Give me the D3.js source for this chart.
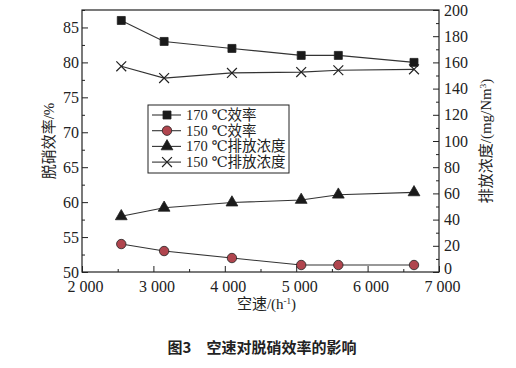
<!DOCTYPE html>
<html>
<head>
<meta charset="utf-8">
<script src="https://cdn.jsdelivr.net/npm/d3@7"></script>
<style>
  body { margin: 0; background: #fff; }
  svg text { font-family: "Liberation Serif", "Times New Roman", "DejaVu Serif", "Noto Sans CJK SC", serif; fill: #222; }
</style>
</head>
<body>
<script>
const speeds = [2550, 3150, 4100, 5070, 5590, 6650];
const eff170 = [86, 83, 82, 81, 81, 80];
const eff150 = [54, 53, 52, 51, 51, 51];
const emis170 = [42.5, 49, 53, 55, 59, 60.8];
const emis150 = [157, 148, 152, 152.6, 154, 154.7];
const xTicks = [2000, 3000, 4000, 5000, 6000, 7000];
const legendNames = ["170 ℃效率", "150 ℃效率", "170 ℃排放浓度", "150 ℃排放浓度"];

const width = 516, height = 368;
const m = {left: 82, right: 77, top: 10, bottom: 96};
const serif = "'Liberation Serif', 'Times New Roman', 'DejaVu Serif', serif";

const svg = d3.select("body").append("svg")
    .attr("width", width)
    .attr("height", height);

const x = d3.scaleLinear().domain([2000, 7000]).range([m.left, width - m.right]);
const yL = d3.scaleLinear().domain([50, 87.5]).range([height - m.bottom, m.top]);
const yR = d3.scaleLinear().domain([0, 200]).range([height - m.bottom, m.top]);

const fmt = d => d3.format(",")(d).replace(",", " ");

// frame
svg.append("rect")
    .attr("x", m.left).attr("y", m.top)
    .attr("width", x.range()[1] - m.left)
    .attr("height", yL.range()[0] - m.top)
    .attr("fill", "none").attr("stroke", "#222").attr("stroke-width", 1.2);

// axes, ticks inward
const xAxis = svg.append("g")
    .attr("transform", `translate(0,${height - m.bottom})`)
    .call(d3.axisBottom(x).tickValues(xTicks).tickFormat(fmt).tickSizeInner(-6).tickSizeOuter(0).tickPadding(9));
svg.append("g")
    .attr("transform", `translate(0,${height - m.bottom})`)
    .call(d3.axisBottom(x).tickValues(d3.range(2500, 7000, 1000)).tickFormat("").tickSizeInner(-3).tickSizeOuter(0));

svg.append("g")
    .attr("transform", `translate(${m.left},0)`)
    .call(d3.axisLeft(yL).tickValues(d3.range(50, 86, 5)).tickSizeInner(-6).tickSizeOuter(0).tickPadding(3));
svg.append("g")
    .attr("transform", `translate(${m.left},0)`)
    .call(d3.axisLeft(yL).tickValues(d3.range(52.5, 88, 5)).tickFormat("").tickSizeInner(-3).tickSizeOuter(0));

const yAxisR = svg.append("g")
    .attr("transform", `translate(${width - m.right},0)`)
    .call(d3.axisRight(yR).tickValues(d3.range(0, 201, 20)).tickSizeInner(-6).tickSizeOuter(0).tickPadding(5));
svg.append("g")
    .attr("transform", `translate(${width - m.right},0)`)
    .call(d3.axisRight(yR).tickValues(d3.range(10, 200, 20)).tickFormat("").tickSizeInner(-3).tickSizeOuter(0));

svg.selectAll(".domain").remove();
svg.selectAll("g").attr("font-family", null);
svg.selectAll(".tick line").attr("stroke", "#222");
svg.selectAll(".tick text")
    .attr("font-size", 16)
    .style("font-family", serif)
    .attr("fill", "#222");
xAxis.selectAll(".tick text").attr("dx", 3);
yAxisR.selectAll(".tick text").filter(d => d === 0).attr("dy", "0.1em");

// axis titles
svg.append("text")
    .attr("x", (m.left + width - m.right) / 2 + 6).attr("y", 309)
    .attr("text-anchor", "middle").attr("font-size", 15)
    .html('空速/(h<tspan dy="-5" font-size="9">-1</tspan><tspan dy="5">)</tspan>');

svg.append("text")
    .attr("transform", `translate(54,${(m.top + height - m.bottom) / 2}) rotate(-90)`)
    .attr("text-anchor", "middle").attr("font-size", 15)
    .text("脱硝效率/%");

svg.append("text")
    .attr("transform", `translate(491,${(m.top + height - m.bottom) / 2}) rotate(-90)`)
    .attr("text-anchor", "middle").attr("font-size", 15)
    .html('排放浓度/(mg/Nm<tspan dy="-5" font-size="9">3</tspan><tspan dy="5">)</tspan>');

// caption
svg.append("text")
    .attr("x", 262).attr("y", 353)
    .attr("text-anchor", "middle").attr("font-size", 15).attr("font-weight", "bold")
    .style("font-family", "'Noto Sans CJK SC', sans-serif")
    .attr("fill", "#333")
    .text("图3　空速对脱硝效率的影响");

// series
const series = [
    {name: legendNames[0], vals: eff170, y: yL, sym: d3.symbolSquare, size: 64, fill: "#1a1a1a"},
    {name: legendNames[1], vals: eff150, y: yL, sym: d3.symbolCircle, size: 70, fill: "#b0454e"},
    {name: legendNames[2], vals: emis170, y: yR, sym: d3.symbolTriangle, size: 60, fill: "#1a1a1a"},
    {name: legendNames[3], vals: emis150, y: yR, sym: d3.symbolX, size: 50, fill: "none"}
];

const line = (s) => d3.line().x((d, i) => x(speeds[i])).y(d => s.y(d));

function drawMarker(g, s) {
    if (s.sym === d3.symbolX) {
        g.attr("d", d3.symbol(d3.symbolX, s.size * 1.3)).attr("fill", "none").attr("stroke", "#222").attr("stroke-width", 1.2);
    } else {
        g.attr("d", d3.symbol(s.sym, s.size)).attr("fill", s.fill).attr("stroke", "#222").attr("stroke-width", 0.8);
    }
}

series.forEach(s => {
    svg.append("path")
        .datum(s.vals)
        .attr("d", line(s))
        .attr("fill", "none").attr("stroke", "#333").attr("stroke-width", 1.1);
    svg.append("g").selectAll("path")
        .data(s.vals)
        .join("path")
        .attr("transform", (d, i) => `translate(${x(speeds[i])},${s.y(d)})`)
        .call(g => drawMarker(g, s));
});

// legend
const lg = svg.append("g").attr("transform", "translate(148,105)");
lg.append("rect").attr("width", 141).attr("height", 68)
    .attr("fill", "#fff").attr("stroke", "#222").attr("stroke-width", 1);
series.forEach((s, i) => {
    const yy = 10 + i * 15.7;
    lg.append("line").attr("x1", 4).attr("x2", 33).attr("y1", yy).attr("y2", yy)
        .attr("stroke", "#333").attr("stroke-width", 1.1);
    lg.append("path").attr("transform", `translate(19,${yy})`).call(g => drawMarker(g, s));
    lg.append("text").attr("x", 38).attr("y", yy + 5).attr("font-size", 14.5).text(s.name);
});
</script>
</body>
</html>
